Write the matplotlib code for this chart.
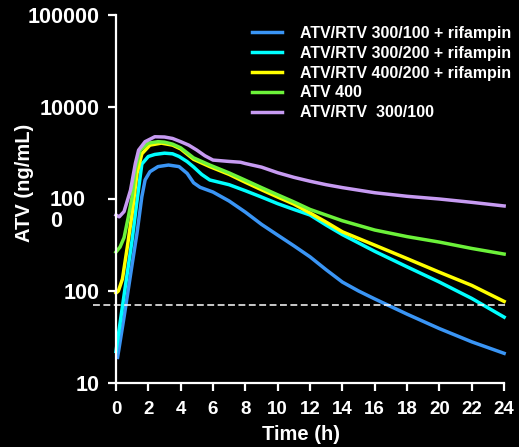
import matplotlib
matplotlib.use("Agg")
import matplotlib.pyplot as plt

plt.rcParams['font.family'] = ['Liberation Sans', 'DejaVu Sans']
plt.rcParams['font.weight'] = 'bold'

# time (h) / ATV concentration (ng/mL)
t_blue = [0.1, 0.5, 1, 1.3, 1.6, 1.8, 2.1, 2.6, 3.25, 3.9, 4.4, 4.8, 5.2, 6, 7, 8, 9, 10, 11, 12, 13, 14, 15, 16, 18, 20, 22, 24]
c_blue = [19, 52, 195, 424, 1060, 1610, 1980, 2250, 2340, 2250, 1900, 1500, 1340, 1190, 950, 720, 530, 405, 310, 235, 170, 125, 100, 82, 56, 39, 28, 21]

t_cyan = [0, 0.5, 1, 1.3, 1.6, 2, 2.4, 3, 3.5, 3.9, 4.4, 4.8, 5.3, 5.8, 7, 8, 9, 10, 11, 12, 13, 14, 16, 18, 20, 22, 24]
c_cyan = [22, 90, 360, 950, 2400, 2900, 3050, 3150, 3100, 2900, 2550, 2230, 1850, 1610, 1430, 1230, 1050, 890, 770, 670, 520, 410, 270, 183, 125, 83, 52]

t_yellow = [0, 0.15, 0.4, 0.7, 1, 1.3, 1.6, 2.1, 2.8, 3.5, 4, 4.8, 5.8, 7, 8, 9, 10, 11, 12, 13, 14, 16, 18, 20, 22, 24]
c_yellow = [95, 100, 135, 300, 700, 1900, 3100, 3850, 4050, 3850, 3500, 2700, 2250, 1850, 1520, 1260, 1050, 880, 705, 560, 440, 315, 225, 160, 115, 77]

t_green = [0, 0.25, 0.5, 0.75, 1, 1.2, 1.5, 2, 2.6, 3, 3.5, 4, 4.8, 5.8, 7, 8, 9, 10, 11, 12, 14, 16, 18, 20, 22, 24]
c_green = [265, 300, 380, 620, 1060, 2070, 3400, 4050, 4200, 4150, 3950, 3600, 2800, 2340, 1920, 1600, 1330, 1110, 930, 770, 580, 460, 390, 340, 290, 252]

t_purple = [0, 0.2, 0.5, 0.9, 1.2, 1.4, 1.8, 2.4, 3, 3.5, 4, 4.5, 5, 5.5, 6, 7, 7.7, 8, 9, 10, 11, 12, 13, 14, 16, 18, 20, 22, 24]
c_purple = [670, 640, 730, 1250, 2440, 3400, 4200, 4750, 4720, 4550, 4200, 3850, 3400, 2950, 2650, 2560, 2510, 2430, 2220, 1930, 1720, 1560, 1430, 1330, 1170, 1070, 1000, 920, 840]

labels = ["ATV/RTV 300/100 + rifampin", "ATV/RTV 300/200 + rifampin",
          "ATV/RTV 400/200 + rifampin", "ATV 400", "ATV/RTV  300/100"]
colors = ['#3a95f5', '#00ffff', '#ffff00', '#6cf23a', '#c79bf2']
threshold = 70
x_ticks = list(range(0, 25, 2))
y_ticks = [10, 100, 1000, 10000, 100000]
y_ticklabels = ["10", "100", "", "10000", "100000"]

fig = plt.figure(figsize=(5.19, 4.47), dpi=100, facecolor='black')
ax = fig.add_axes([0.1767, 0.1432, 0.804, 0.8232], facecolor='black')

series = [(t_blue, c_blue), (t_cyan, c_cyan), (t_yellow, c_yellow),
          (t_green, c_green), (t_purple, c_purple)]
for (t, c), lab, col in zip(series, labels, colors):
    ax.plot(t, c, color=col, lw=2.5, label=lab, solid_joinstyle='round')

ax.plot([-1.4, 24.2], [threshold, threshold], color='white', lw=1.1,
        dashes=(4.5, 2.3), clip_on=False)

ax.set_yscale('log')
ax.set_xlim(-1.5, 24.3)
ax.set_ylim(10, 100000)
ax.minorticks_off()

for s in ['top', 'right']:
    ax.spines[s].set_visible(False)
ax.spines['left'].set_position(('data', 0))
ax.spines['bottom'].set_bounds(0, 24)
for s in ['left', 'bottom']:
    ax.spines[s].set_color('white')
    ax.spines[s].set_linewidth(1.6)

ax.set_xticks(x_ticks)
ax.set_xticklabels([str(v) for v in x_ticks], fontsize=13.5, fontweight='bold', color='white')
ax.set_yticks(y_ticks)
ax.set_yticklabels(y_ticklabels, fontsize=15.5, fontweight='bold', color='white')
ax.tick_params(axis='both', colors='white', width=1.6)
ax.tick_params(axis='x', length=6, pad=7)
ax.tick_params(axis='y', length=5.5, pad=6)

# the wrapped 1000 label
fig.text(50 / 519, 1 - 190 / 447, "100\n0", ha='left', va='top',
         fontsize=15.5, fontweight='bold', color='white', linespacing=1.0)

fig.text(25 / 519, 1 - 183 / 447, "ATV (ng/mL)", rotation=90, ha='center', va='center',
         fontsize=14.5, fontweight='bold', color='white')
fig.text(301 / 519, 1 - 434 / 447, "Time (h)", ha='center', va='center',
         fontsize=14.5, fontweight='bold', color='white')

leg = ax.legend(loc='upper left', bbox_to_anchor=(252 / 519, 1 - 26 / 447),
                bbox_transform=fig.transFigure, frameon=False, borderpad=0,
                borderaxespad=0, handlelength=1.9, handletextpad=1.1,
                labelspacing=0.3, prop={'size': 11.5, 'weight': 'bold'})
for txt in leg.get_texts():
    txt.set_color('white')

fig.savefig("out.png", dpi=100, facecolor='black')
